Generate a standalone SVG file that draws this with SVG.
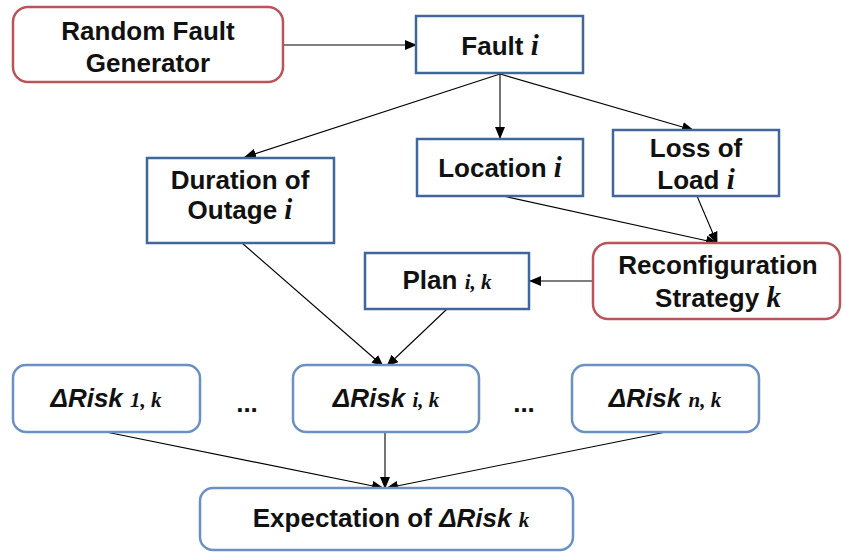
<svg xmlns="http://www.w3.org/2000/svg" width="845" height="554" viewBox="0 0 845 554">
<defs>
<marker id="ah" markerUnits="userSpaceOnUse" markerWidth="12" markerHeight="10" viewBox="0 0 12 10" refX="11" refY="5" orient="auto">
<path d="M0,0 L12,5 L0,10 Z" fill="#000"/>
</marker>
</defs>
<style>
.red{fill:#fff;stroke:#b9545a;stroke-width:2.5}
.blu{fill:#fff;stroke:#41679a;stroke-width:2.5}
.lblu{fill:#fff;stroke:#6b90c4;stroke-width:2.5}
.t{font-family:"Liberation Sans",Arial,sans-serif;font-weight:bold;font-size:26px;fill:#111;text-anchor:middle}
.v{font-family:"Liberation Serif","Times New Roman",serif;font-style:italic;font-weight:bold;font-size:29px}
.s{font-family:"Liberation Serif","Times New Roman",serif;font-style:italic;font-weight:bold;font-size:21px}
.it{font-style:italic}
.c{fill:none;stroke:#000;stroke-width:1.1;marker-end:url(#ah)}
</style>
<g id="connectors">
<path class="c" d="M283,45 L416,45"/>
<path class="c" d="M500,74 L245,157"/>
<path class="c" d="M500,74 L500,138"/>
<path class="c" d="M500,74 L693,130"/>
<path class="c" d="M503,196 L717,243"/>
<path class="c" d="M697,196 L717,243"/>
<path class="c" d="M593,281 L530,281"/>
<path class="c" d="M242,243 L383,366"/>
<path class="c" d="M447,309 L387,366"/>
<path class="c" d="M106,432 L383,488"/>
<path class="c" d="M385,432 L385,488"/>
<path class="c" d="M666,432 L387,488"/>
</g>
<g id="random-fault-generator">
<rect class="red" x="13" y="7" width="270" height="75" rx="15"/>
<text class="t" x="148" y="40">Random Fault</text>
<text class="t" x="148" y="72">Generator</text>
</g>
<g id="fault">
<rect class="blu" x="416" y="16" width="167" height="57"/>
<text class="t" x="500" y="55">Fault <tspan class="v">i</tspan></text>
</g>
<g id="duration">
<rect class="blu" x="147" y="158" width="187" height="85"/>
<text class="t" x="240" y="189">Duration of</text>
<text class="t" x="240" y="219">Outage <tspan class="v">i</tspan></text>
</g>
<g id="location">
<rect class="blu" x="417" y="139" width="166" height="57"/>
<text class="t" x="500" y="177">Location <tspan class="v">i</tspan></text>
</g>
<g id="loss-of-load">
<rect class="blu" x="613" y="130" width="166" height="66"/>
<text class="t" x="696" y="157">Loss of</text>
<text class="t" x="696" y="189">Load <tspan class="v">i</tspan></text>
</g>
<g id="reconfiguration">
<rect class="red" x="593" y="243" width="247" height="76" rx="15"/>
<text class="t" x="718" y="274">Reconfiguration</text>
<text class="t" x="718" y="307">Strategy <tspan class="v">k</tspan></text>
</g>
<g id="plan">
<rect class="blu" x="365" y="253" width="164" height="56"/>
<text class="t" x="447" y="289">Plan <tspan class="s">i, k</tspan></text>
</g>
<g id="risk-1">
<rect class="lblu" x="13" y="365" width="187" height="67" rx="13"/>
<text class="t" x="106" y="407"><tspan class="it">ΔRisk </tspan><tspan class="s">1, k</tspan></text>
</g>
<text class="t" x="247" y="412">...</text>
<g id="risk-i">
<rect class="lblu" x="293" y="365" width="186" height="67" rx="13"/>
<text class="t" x="386" y="407"><tspan class="it">ΔRisk </tspan><tspan class="s">i, k</tspan></text>
</g>
<text class="t" x="524" y="412">...</text>
<g id="risk-n">
<rect class="lblu" x="572" y="365" width="187" height="67" rx="13"/>
<text class="t" x="665" y="407"><tspan class="it">ΔRisk </tspan><tspan class="s">n, k</tspan></text>
</g>
<g id="expectation">
<rect class="lblu" x="200" y="488" width="373" height="62" rx="13"/>
<text class="t" x="391" y="527">Expectation of <tspan class="it">ΔRisk </tspan><tspan class="s">k</tspan></text>
</g>
</svg>
